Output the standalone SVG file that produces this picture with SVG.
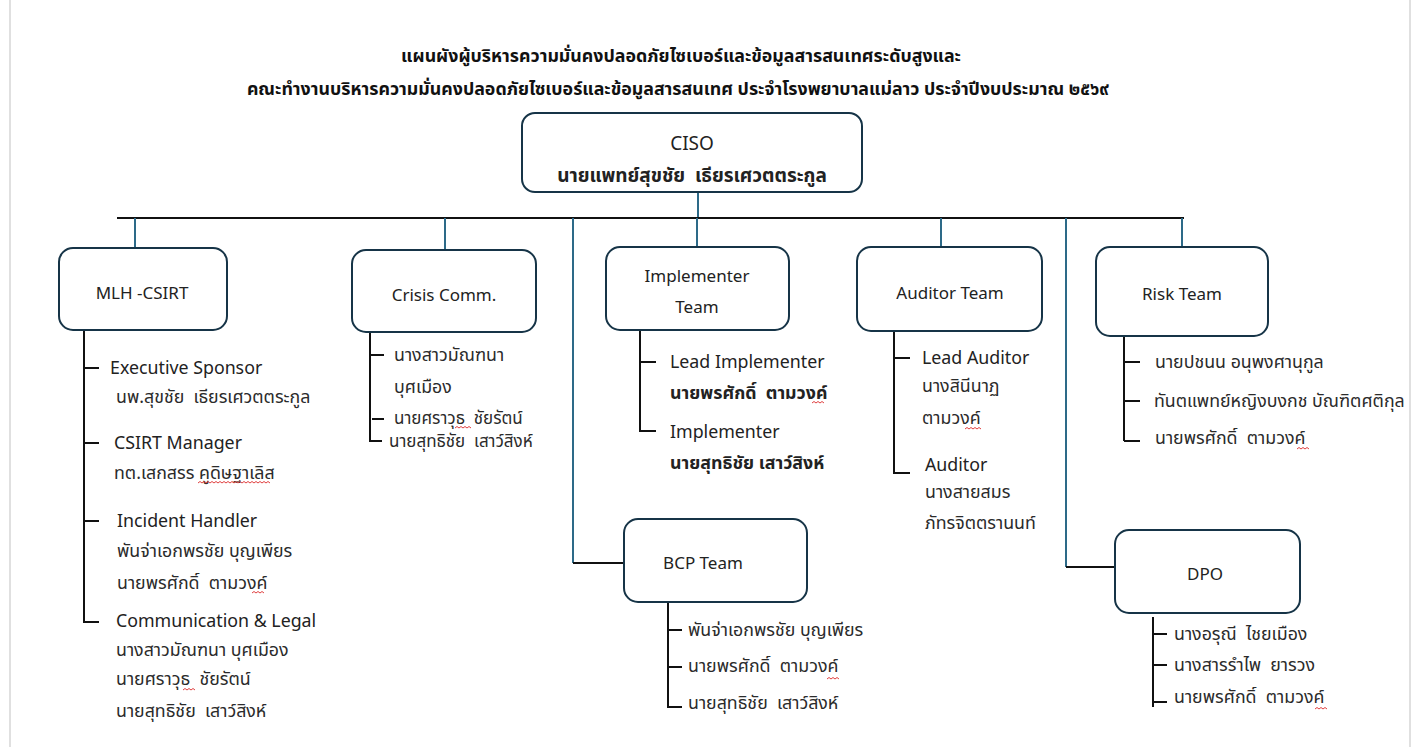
<svg xmlns="http://www.w3.org/2000/svg" width="1418" height="747" viewBox="0 0 1418 747">
  <style>
    text { font-family: "Noto Sans", "Noto Sans Thai", "DejaVu Sans", sans-serif; fill: #2b2b2b; white-space: pre; }
    .title { font-size: 17.8px; font-weight: bold; fill: #111; text-anchor: middle; }
    .box { fill: #fff; stroke: #163447; stroke-width: 2; }
    .lbl { font-size: 17px; text-anchor: middle; fill: #222; }
    .ciso { font-size: 19px; text-anchor: middle; fill: #222; }
    .item { font-size: 17.8px; }
    .tight { font-size: 17px; }
    .role { font-size: 17.8px; fill: #222; }
    .b { font-weight: bold; fill: #222; }
    .trunk { stroke: #111; stroke-width: 2; fill: none; }
    .drop { stroke: #2d6a88; stroke-width: 2; fill: none; }
    .list { stroke: #111; stroke-width: 2; fill: none; }
    .page { stroke: #d6d6d6; stroke-width: 1.5; }
    .wavy { stroke: #e04040; stroke-width: 1; fill: none; }
  </style>

  <rect width="1418" height="747" fill="#fff"/>
  <line class="page" x1="10" y1="0" x2="10" y2="747"/>
  <line class="page" x1="1410" y1="0" x2="1410" y2="747"/>

  <g id="title">
    <text class="title" x="681" y="62">แผนผังผู้บริหารความมั่นคงปลอดภัยไซเบอร์และข้อมูลสารสนเทศระดับสูงและ</text>
    <text class="title" x="678" y="95">คณะทำงานบริหารความมั่นคงปลอดภัยไซเบอร์และข้อมูลสารสนเทศ ประจำโรงพยาบาลแม่ลาว ประจำปีงบประมาณ ๒๕๖๙</text>
  </g>

  <g id="connectors">
    <line class="drop" x1="698" y1="192" x2="698" y2="218"/>
    <line class="trunk" x1="117" y1="218" x2="1184" y2="218"/>
    <line class="drop" x1="135" y1="218" x2="135" y2="248"/>
    <line class="drop" x1="445" y1="218" x2="445" y2="250"/>
    <line class="drop" x1="697" y1="218" x2="697" y2="247"/>
    <line class="drop" x1="941" y1="218" x2="941" y2="247"/>
    <line class="drop" x1="1182" y1="218" x2="1182" y2="247"/>
    <polyline class="drop" points="573,218 573,563"/>
    <line class="trunk" x1="573" y1="563" x2="624" y2="563"/>
    <polyline class="drop" points="1066,218 1066,567"/>
    <line class="trunk" x1="1066" y1="567" x2="1115" y2="567"/>

    <!-- member brackets -->
    <path class="list" d="M84 330 V623 M84 368 H99 M84 443 H99 M84 521 H99 M84 622 H99"/>
    <path class="list" d="M370 333 V441 H382 M370 355 H384 M372 419 H384"/>
    <path class="list" d="M640 330 V431 H656 M640 362 H656"/>
    <path class="list" d="M894 331 V474 M894 358 H910 M894 473 H910"/>
    <path class="list" d="M1124 336 V441 M1124 362 H1140 M1124 401 H1140 M1124 441 H1140"/>
    <path class="list" d="M668 602 V707 H682 M668 630 H682 M668 667 H682"/>
    <path class="list" d="M1153 617 V707 M1153 634 H1167 M1153 665 H1167 M1153 702 H1167"/>
  </g>

  <g id="ciso">
    <rect class="box" x="522" y="113" width="340" height="79" rx="13"/>
    <text class="ciso" x="692" y="150">CISO</text>
    <text class="ciso b" x="692" y="182">นายแพทย์สุขชัย  เธียรเศวตตระกูล</text>
  </g>

  <g id="mlh-csirt">
    <rect class="box" x="59" y="248" width="168" height="82" rx="14"/>
    <text class="lbl" x="142" y="299">MLH -CSIRT</text>
    <text class="role" x="110" y="374">Executive Sponsor</text>
    <text class="item" x="116" y="403">นพ.สุขชัย  เธียรเศวตตระกูล</text>
    <text class="role" x="114" y="449">CSIRT Manager</text>
    <text class="item" x="114" y="479">ทต.เสกสรร คูดิษฐาเลิส</text>
    <text class="role" x="117" y="527">Incident Handler</text>
    <text class="item" x="117" y="557">พันจ่าเอกพรชัย บุญเพียร</text>
    <text class="item" x="117" y="589">นายพรศักดิ์  ตามวงค์</text>
    <text class="role" x="116" y="627">Communication &amp; Legal</text>
    <text class="item" x="116" y="656">นางสาวมัณฑนา บุศเมือง</text>
    <text class="item" x="116" y="685">นายศราวุธ  ชัยรัตน์</text>
    <text class="item" x="116" y="717">นายสุทธิชัย  เสาว์สิงห์</text>
  </g>

  <g id="crisis-comm">
    <rect class="box" x="352" y="250" width="184" height="82" rx="14"/>
    <text class="lbl" x="444" y="301">Crisis Comm.</text>
    <text class="item" x="394" y="361">นางสาวมัณฑนา</text>
    <text class="item" x="394" y="393">บุศเมือง</text>
    <text class="item tight" x="394" y="424">นายศราวุธ  ชัยรัตน์</text>
    <text class="item tight" x="389" y="447">นายสุทธิชัย  เสาว์สิงห์</text>
  </g>

  <g id="implementer-team">
    <rect class="box" x="606" y="247" width="183" height="83" rx="14"/>
    <text class="lbl" x="697" y="282">Implementer</text>
    <text class="lbl" x="697" y="313">Team</text>
    <text class="role" x="670" y="368">Lead Implementer</text>
    <text class="item b" x="670" y="399">นายพรศักดิ์  ตามวงค์</text>
    <text class="role" x="670" y="438">Implementer</text>
    <text class="item b" x="670" y="469">นายสุทธิชัย เสาว์สิงห์</text>
  </g>

  <g id="auditor-team">
    <rect class="box" x="857" y="247" width="185" height="84" rx="14"/>
    <text class="lbl" x="950" y="299">Auditor Team</text>
    <text class="role" x="922" y="364">Lead Auditor</text>
    <text class="item" x="922" y="392">นางสินีนาฏ</text>
    <text class="item" x="922" y="424">ตามวงค์</text>
    <text class="role" x="925" y="471">Auditor</text>
    <text class="item" x="925" y="498">นางสายสมร</text>
    <text class="item" x="925" y="529">ภัทรจิตตรานนท์</text>
  </g>

  <g id="risk-team">
    <rect class="box" x="1096" y="247" width="172" height="89" rx="14"/>
    <text class="lbl" x="1182" y="300">Risk Team</text>
    <text class="item" x="1155" y="368">นายปชนน อนุพงศานุกูล</text>
    <text class="item" x="1154" y="407">ทันตแพทย์หญิงบงกช บัณฑิตศติกุล</text>
    <text class="item" x="1155" y="444">นายพรศักดิ์  ตามวงค์</text>
  </g>

  <g id="bcp-team">
    <rect class="box" x="624" y="519" width="183" height="83" rx="14"/>
    <text class="lbl" x="703" y="569">BCP Team</text>
    <text class="item" x="688" y="636">พันจ่าเอกพรชัย บุญเพียร</text>
    <text class="item" x="688" y="672">นายพรศักดิ์  ตามวงค์</text>
    <text class="item" x="688" y="709">นายสุทธิชัย  เสาว์สิงห์</text>
  </g>

  <g id="dpo">
    <rect class="box" x="1115" y="530" width="185" height="83" rx="14"/>
    <text class="lbl" x="1205" y="580">DPO</text>
    <text class="item" x="1174" y="640">นางอรุณี  ไชยเมือง</text>
    <text class="item" x="1174" y="671">นางสารรำไพ  ยารวง</text>
    <text class="item" x="1174" y="703">นายพรศักดิ์  ตามวงค์</text>
  </g>

  <!-- red wavy spelling marks under some surnames -->
  <g id="spell-marks">
    <path class="wavy" d="M198 483 l2 -1.5 l2 1.5 l2 -1.5 l2 1.5 l2 -1.5 l2 1.5 l2 -1.5 l2 1.5 l2 -1.5 l2 1.5 l2 -1.5 l2 1.5 l2 -1.5 l2 1.5 l2 -1.5 l2 1.5 l2 -1.5 l2 1.5 l2 -1.5 l2 1.5 l2 -1.5 l2 1.5 l2 -1.5 l2 1.5 l2 -1.5 l2 1.5 l2 -1.5 l2 1.5 l2 -1.5 l2 1.5 l2 -1.5 l2 1.5 l2 -1.5 l2 1.5 l2 -1.5 l2 1.5"/>
    <path class="wavy" d="M252 593 l2 -1.5 l2 1.5 l2 -1.5 l2 1.5 l2 -1.5 l2 1.5"/>
    <path class="wavy" d="M183 690 l2 -1.5 l2 1.5 l2 -1.5 l2 1.5 l2 -1.5 l2 1.5"/>
    <path class="wavy" d="M455 428 l2 -1.5 l2 1.5 l2 -1.5 l2 1.5 l2 -1.5 l2 1.5 l2 -1.5 l2 1.5"/>
    <path class="wavy" d="M812 403 l2 -1.5 l2 1.5 l2 -1.5 l2 1.5 l2 -1.5 l2 1.5"/>
    <path class="wavy" d="M965 429 l2 -1.5 l2 1.5 l2 -1.5 l2 1.5 l2 -1.5 l2 1.5 l2 -1.5 l2 1.5"/>
    <path class="wavy" d="M1297 449 l2 -1.5 l2 1.5 l2 -1.5 l2 1.5 l2 -1.5 l2 1.5"/>
    <path class="wavy" d="M827 679 l2 -1.5 l2 1.5 l2 -1.5 l2 1.5 l2 -1.5 l2 1.5"/>
    <path class="wavy" d="M1315 709 l2 -1.5 l2 1.5 l2 -1.5 l2 1.5 l2 -1.5 l2 1.5"/>
  </g>
</svg>
